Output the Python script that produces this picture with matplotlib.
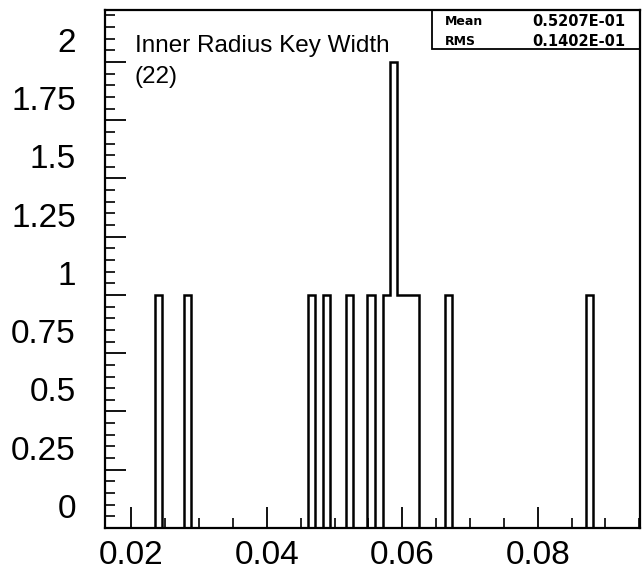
import matplotlib
matplotlib.use("Agg")
import matplotlib.pyplot as plt
from matplotlib.patches import Rectangle
from matplotlib.transforms import ScaledTranslation
import numpy as np

# histogram bins (left edge of each filled bin)
bin_width = 0.00107
bin_lefts = [0.02347, 0.02780, 0.04601, 0.04831, 0.05162, 0.05486,
             0.05712, 0.05818, 0.05924, 0.06030, 0.06136,
             0.06627, 0.08708]
counts = [1, 1, 1, 1, 1, 1,
          1, 2, 1, 1, 1,
          1, 1]

title = "Inner Radius Key Width"
hist_id = "(22)"
stat_names = ["Mean", "RMS"]
stat_values = ["0.5207E-01", "0.1402E-01"]

x_ticks = [0.02, 0.04, 0.06, 0.08]
x_ticklabels = ["0.02", "0.04", "0.06", "0.08"]
y_ticks = [0, 0.25, 0.5, 0.75, 1, 1.25, 1.5, 1.75, 2]
y_ticklabels = ["0", "0.25", "0.5", "0.75", "1", "1.25", "1.5", "1.75", "2"]

# build contiguous edges for stairs, putting empty bins in the gaps
edges = [bin_lefts[0]]
values = []
for i, (left, c) in enumerate(zip(bin_lefts, counts)):
    if abs(left - edges[-1]) > 0.0002:
        values.append(0)
        edges.append(left)
    values.append(c)
    if i + 1 < len(bin_lefts) and abs(bin_lefts[i + 1] - (left + bin_width)) < 0.0002:
        edges.append(bin_lefts[i + 1])
    else:
        edges.append(left + bin_width)

plt.rcParams['font.family'] = ['Liberation Sans', 'DejaVu Sans']

fig = plt.figure(figsize=(6.43, 5.71), dpi=100)
ax = fig.add_axes([105/643, 43/571, 535/643, 518/571])

ax.stairs(values, edges, baseline=0, fill=False, color='black', linewidth=1.8)

ax.set_xlim(0.0161, 0.0951)
ax.set_ylim(0, 2.223)

ax.set_xticks(x_ticks)
ax.set_xticklabels(x_ticklabels, fontsize=24)
ax.set_xticks(np.arange(0.02, 0.0951, 0.005), minor=True)
ax.set_yticks(y_ticks)
ax.set_yticklabels(y_ticklabels, fontsize=24)
ax.set_yticks(np.arange(0, 2.223, 0.05), minor=True)

ax.tick_params(axis='both', which='major', direction='in', length=15, width=1.3,
               top=False, right=False)
ax.tick_params(axis='both', which='minor', direction='in', length=7, width=1.2,
               top=False, right=False)
ax.tick_params(axis='x', which='major', pad=9)
ax.tick_params(axis='y', which='major', pad=21)

# y labels sit higher than their ticks in the original
for lab in ax.get_yticklabels():
    lab.set_transform(lab.get_transform() + ScaledTranslation(0, 0.22, fig.dpi_scale_trans))

for s in ax.spines.values():
    s.set_linewidth(1.6)

ax.text(0.056, 0.9305, title, transform=ax.transAxes, fontsize=17.5,
        ha='left', va='center')
ax.text(0.056, 0.871, hist_id, transform=ax.transAxes, fontsize=17.5,
        ha='left', va='center')

# stats box
ax.add_patch(Rectangle((0.611, 0.9247), 0.389, 0.0753, transform=ax.transAxes,
                       fill=False, edgecolor='black', linewidth=1.3, clip_on=False))
rows_y = [0.977, 0.940]
for name, val, yy in zip(stat_names, stat_values, rows_y):
    ax.text(0.636, yy, name, transform=ax.transAxes, fontsize=9,
            fontweight='bold', family='DejaVu Sans', ha='left', va='center')
    ax.text(0.972, yy, val, transform=ax.transAxes, fontsize=10.5,
            fontweight='bold', family='DejaVu Sans', ha='right', va='center')

plt.savefig('out.png', dpi=100)
